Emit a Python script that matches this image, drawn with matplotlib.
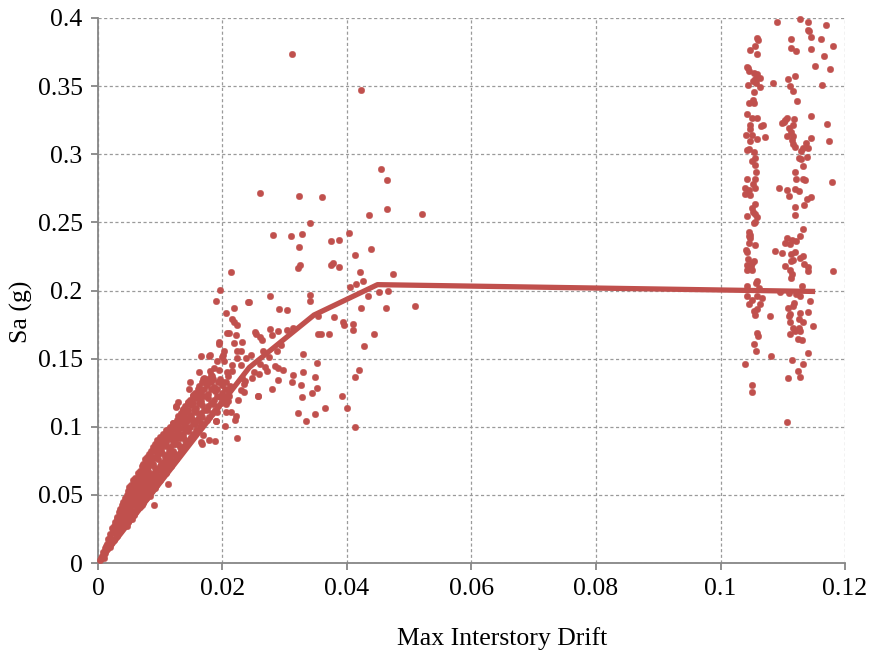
import matplotlib
matplotlib.use("Agg")
import matplotlib.pyplot as plt

# median IDA curve
median_drift = [0.0, 0.0243, 0.0347, 0.0449, 0.1152]
median_sa = [0.0, 0.1435, 0.182, 0.2043, 0.1993]

# dense band of early records near the origin
band_drift = [0.0003, 0.0006, 0.0009, 0.0008, 0.0012, 0.0011, 0.0015, 0.0014, 0.0019, 0.0017, 0.0022, 0.0026,
              0.0020, 0.0025, 0.0030, 0.0023, 0.0028, 0.0034, 0.0039, 0.0027, 0.0032, 0.0037, 0.0044, 0.0048,
              0.0031, 0.0036, 0.0042, 0.0047, 0.0053, 0.0058, 0.0036, 0.0041, 0.0046, 0.0051, 0.0057, 0.0063,
              0.0067, 0.0040, 0.0045, 0.0050, 0.0055, 0.0061, 0.0066, 0.0072, 0.0046, 0.0051, 0.0056, 0.0061,
              0.0067, 0.0073, 0.0079, 0.0083, 0.0050, 0.0056, 0.0062, 0.0068, 0.0074, 0.0080, 0.0087, 0.0092,
              0.0057, 0.0063, 0.0069, 0.0075, 0.0081, 0.0088, 0.0095, 0.0100, 0.0065, 0.0071, 0.0077, 0.0084,
              0.0090, 0.0097, 0.0104, 0.0110, 0.0071, 0.0078, 0.0085, 0.0092, 0.0099, 0.0106, 0.0113, 0.0118,
              0.0076, 0.0083, 0.0090, 0.0097, 0.0104, 0.0111, 0.0118, 0.0125, 0.0082, 0.0089, 0.0096, 0.0103,
              0.0110, 0.0117, 0.0124, 0.0132, 0.0088, 0.0095, 0.0102, 0.0109, 0.0116, 0.0123, 0.0131, 0.0139,
              0.0095, 0.0102, 0.0110, 0.0117, 0.0124, 0.0132, 0.0140, 0.0148, 0.0105, 0.0112, 0.0120, 0.0128,
              0.0136, 0.0144, 0.0152, 0.0116, 0.0124, 0.0132, 0.0140, 0.0148, 0.0156, 0.0164, 0.0127, 0.0135,
              0.0143, 0.0151, 0.0159, 0.0167, 0.0175, 0.0133, 0.0141, 0.0150, 0.0158, 0.0166, 0.0175, 0.0183,
              0.0140, 0.0149, 0.0158, 0.0167, 0.0176, 0.0185, 0.0193, 0.0148, 0.0157, 0.0166, 0.0176, 0.0186,
              0.0196, 0.0156, 0.0166, 0.0177, 0.0188, 0.0199, 0.0209, 0.0163, 0.0175, 0.0187, 0.0199, 0.0212,
              0.0170, 0.0183, 0.0196, 0.0209, 0.0180, 0.0194, 0.0208,
              0.0005, 0.0010, 0.0016, 0.0021, 0.0029, 0.0035, 0.0041, 0.0046, 0.0052, 0.0060, 0.0064, 0.0070,
              0.0076, 0.0079, 0.0086, 0.0094, 0.0093, 0.0101, 0.0107, 0.0114, 0.0121, 0.0128, 0.0136, 0.0145,
              0.0153, 0.0162, 0.0171, 0.0181, 0.0191, 0.0201, 0.0128, 0.0146, 0.0163,
              0.0013, 0.0016, 0.0023, 0.0024, 0.0031, 0.0036, 0.0026, 0.0033, 0.0040, 0.0046,
              0.0030, 0.0035, 0.0041, 0.0050, 0.0055, 0.0034, 0.0040, 0.0045, 0.0054, 0.0060,
              0.0038, 0.0044, 0.0049, 0.0058, 0.0064, 0.0070, 0.0043, 0.0049, 0.0054, 0.0064, 0.0070, 0.0077,
              0.0048, 0.0054, 0.0059, 0.0070, 0.0076, 0.0085, 0.0053, 0.0060, 0.0066, 0.0078, 0.0085, 0.0094,
              0.0060, 0.0067, 0.0074, 0.0085, 0.0092, 0.0102, 0.0068, 0.0074, 0.0081, 0.0094, 0.0101, 0.0110,
              0.0073, 0.0081, 0.0089, 0.0101, 0.0109, 0.0118, 0.0079, 0.0087, 0.0094, 0.0108, 0.0115, 0.0125,
              0.0085, 0.0093, 0.0100, 0.0114, 0.0121, 0.0133, 0.0092, 0.0099, 0.0106, 0.0120, 0.0128, 0.0142,
              0.0100, 0.0107, 0.0114, 0.0128, 0.0136, 0.0150, 0.0110, 0.0118, 0.0126, 0.0140, 0.0157,
              0.0121, 0.0129, 0.0137, 0.0153, 0.0166, 0.0130, 0.0138, 0.0147, 0.0163, 0.0178,
              0.0137, 0.0145, 0.0154, 0.0171, 0.0188, 0.0144, 0.0153, 0.0162, 0.0181, 0.0197,
              0.0152, 0.0161, 0.0171, 0.0191, 0.0203, 0.0160, 0.0171, 0.0182, 0.0204,
              0.0167, 0.0181, 0.0193, 0.0205]
band_sa = [0.002, 0.005, 0.004, 0.008, 0.007, 0.011, 0.010, 0.014, 0.012, 0.018, 0.016, 0.017,
           0.021, 0.022, 0.020, 0.026, 0.025, 0.024, 0.026, 0.030, 0.029, 0.031, 0.028, 0.030,
           0.034, 0.036, 0.034, 0.035, 0.033, 0.035, 0.040, 0.041, 0.039, 0.040, 0.038, 0.040,
           0.041, 0.045, 0.046, 0.044, 0.046, 0.044, 0.045, 0.044, 0.050, 0.052, 0.049, 0.051,
           0.050, 0.049, 0.050, 0.049, 0.056, 0.055, 0.057, 0.055, 0.056, 0.054, 0.055, 0.055,
           0.061, 0.060, 0.062, 0.060, 0.061, 0.059, 0.060, 0.061, 0.066, 0.065, 0.067, 0.065,
           0.066, 0.064, 0.065, 0.066, 0.071, 0.070, 0.072, 0.070, 0.071, 0.069, 0.070, 0.071,
           0.076, 0.075, 0.077, 0.076, 0.074, 0.076, 0.075, 0.076, 0.080, 0.082, 0.080, 0.081,
           0.079, 0.081, 0.080, 0.081, 0.085, 0.086, 0.084, 0.086, 0.085, 0.087, 0.085, 0.086,
           0.090, 0.091, 0.089, 0.091, 0.090, 0.092, 0.090, 0.091, 0.095, 0.096, 0.094, 0.096,
           0.095, 0.097, 0.095, 0.100, 0.101, 0.099, 0.101, 0.100, 0.102, 0.100, 0.105, 0.106,
           0.104, 0.106, 0.105, 0.107, 0.105, 0.110, 0.111, 0.109, 0.111, 0.110, 0.112, 0.110,
           0.115, 0.116, 0.114, 0.116, 0.115, 0.117, 0.115, 0.120, 0.121, 0.119, 0.121, 0.120,
           0.122, 0.125, 0.126, 0.124, 0.126, 0.125, 0.127, 0.130, 0.131, 0.129, 0.131, 0.130,
           0.136, 0.137, 0.135, 0.137, 0.141, 0.142, 0.140,
           0.0035, 0.0065, 0.012, 0.015, 0.023, 0.027, 0.032, 0.037, 0.043, 0.047, 0.053, 0.058,
           0.063, 0.068, 0.073, 0.078, 0.083, 0.088, 0.093, 0.098, 0.103, 0.108, 0.113, 0.118,
           0.123, 0.128, 0.133, 0.138, 0.128, 0.133, 0.118, 0.128, 0.140,
           0.0125, 0.0175, 0.0175, 0.0235, 0.0235, 0.0235, 0.0275, 0.0275, 0.0275, 0.0275,
           0.0325, 0.0325, 0.0325, 0.0325, 0.0325, 0.0375, 0.0375, 0.0375, 0.0375, 0.0375,
           0.0425, 0.0425, 0.0425, 0.0425, 0.0425, 0.0425, 0.0475, 0.0475, 0.0475, 0.0475, 0.0475, 0.0475,
           0.0525, 0.0525, 0.0525, 0.0525, 0.0525, 0.0525, 0.0575, 0.0575, 0.0575, 0.0575, 0.0575, 0.0575,
           0.0625, 0.0625, 0.0625, 0.0625, 0.0625, 0.0625, 0.0675, 0.0675, 0.0675, 0.0675, 0.0675, 0.0675,
           0.0725, 0.0725, 0.0725, 0.0725, 0.0725, 0.0725, 0.0775, 0.0775, 0.0775, 0.0775, 0.0775, 0.0775,
           0.0825, 0.0825, 0.0825, 0.0825, 0.0825, 0.0825, 0.0875, 0.0875, 0.0875, 0.0875, 0.0875, 0.0875,
           0.0925, 0.0925, 0.0925, 0.0925, 0.0925, 0.0925, 0.0975, 0.0975, 0.0975, 0.0975, 0.0975,
           0.1025, 0.1025, 0.1025, 0.1025, 0.1025, 0.1075, 0.1075, 0.1075, 0.1075, 0.1075,
           0.1125, 0.1125, 0.1125, 0.1125, 0.1125, 0.1175, 0.1175, 0.1175, 0.1175, 0.1175,
           0.1225, 0.1225, 0.1225, 0.1225, 0.1225, 0.1275, 0.1275, 0.1275, 0.1275,
           0.1325, 0.1325, 0.1325, 0.1325]

# scattered records between the band and collapse
spread_drift = [0.0312, 0.0423, 0.0455, 0.0464, 0.0261, 0.0323, 0.0360, 0.0464, 0.0436, 0.0520, 0.0340,
                0.0281, 0.0310, 0.0327, 0.0323, 0.0374, 0.0387, 0.0403, 0.0413, 0.0439, 0.0375, 0.0378,
                0.0387, 0.0322, 0.0325, 0.0421, 0.0415, 0.0426, 0.0474, 0.0405, 0.0452, 0.0466, 0.0433,
                0.0422, 0.0463, 0.0509, 0.0277, 0.0340, 0.0340, 0.0291, 0.0304, 0.0243, 0.0354, 0.0379,
                0.0393, 0.0395, 0.0410, 0.0410, 0.0443, 0.0354, 0.0358, 0.0371, 0.0253, 0.0254, 0.0261,
                0.0263, 0.0276, 0.0279, 0.0289, 0.0303, 0.0313, 0.0427, 0.0294, 0.0275, 0.0287, 0.0265,
                0.0330, 0.0352, 0.0246, 0.0260, 0.0268, 0.0284, 0.0289, 0.0298, 0.0271, 0.0250, 0.0248,
                0.0259, 0.0314, 0.0329, 0.0348, 0.0312, 0.0326, 0.0289, 0.0352, 0.0344, 0.0328, 0.0280,
                0.0257, 0.0392, 0.0420, 0.0413, 0.0364, 0.0400, 0.0322, 0.0348, 0.0334, 0.0413,
                0.0214, 0.0196, 0.0190, 0.0241, 0.0206, 0.0218, 0.0216, 0.0218, 0.0223, 0.0210, 0.0221,
                0.0194, 0.0194, 0.0218, 0.0231, 0.0230, 0.0202, 0.0201, 0.0180, 0.0178, 0.0192, 0.0223,
                0.0238, 0.0216, 0.0165, 0.0187, 0.0169, 0.0176, 0.0184, 0.0232, 0.0225, 0.0222, 0.0204,
                0.0223, 0.0169, 0.0178, 0.0188, 0.0167, 0.0189, 0.0206, 0.0214, 0.0210, 0.0229, 0.0235,
                0.0148, 0.0215, 0.0236, 0.0257, 0.0125, 0.0137, 0.0165, 0.0157, 0.0189, 0.0192, 0.0209,
                0.0220, 0.0202, 0.0223, 0.0229, 0.0166, 0.0206, 0.0235, 0.0208, 0.0126, 0.0171, 0.0200,
                0.0090, 0.0113, 0.0109]
spread_sa = [0.3733, 0.3474, 0.2894, 0.2811, 0.2713, 0.2696, 0.2689, 0.2601, 0.2551, 0.2564, 0.2496,
             0.2405, 0.2398, 0.2415, 0.2317, 0.2366, 0.2373, 0.2424, 0.2260, 0.2304, 0.2187, 0.2204,
             0.2172, 0.2163, 0.2187, 0.2136, 0.2050, 0.2072, 0.2121, 0.2023, 0.1989, 0.1999, 0.1957,
             0.1869, 0.1874, 0.1888, 0.1957, 0.1967, 0.1920, 0.1866, 0.1859, 0.1915, 0.1810, 0.1803,
             0.1768, 0.1747, 0.1756, 0.1707, 0.1678, 0.1678, 0.1683, 0.1683, 0.1698, 0.1680, 0.1656,
             0.1636, 0.1715, 0.1673, 0.1700, 0.1712, 0.1722, 0.1595, 0.1600, 0.1509, 0.1553, 0.1558,
             0.1531, 0.1468, 0.1529, 0.1460, 0.1441, 0.1443, 0.1433, 0.1414, 0.1409, 0.1399, 0.1360,
             0.1384, 0.1379, 0.1404, 0.1362, 0.1326, 0.1308, 0.1343, 0.1284, 0.1245, 0.1220, 0.1274,
             0.1223, 0.1228, 0.1419, 0.1362, 0.1140, 0.1140, 0.1103, 0.1095, 0.1042, 0.1000,
             0.2136, 0.2006, 0.1925, 0.1913, 0.1835, 0.1869, 0.1788, 0.1769, 0.1749, 0.1685, 0.1673,
             0.1624, 0.1607, 0.1617, 0.1622, 0.1556, 0.1558, 0.1529, 0.1529, 0.1516, 0.1485, 0.1504,
             0.1507, 0.1453, 0.1516, 0.1431, 0.1347, 0.1347, 0.1347, 0.1358, 0.1200, 0.1081, 0.1002,
             0.0917, 0.0939, 0.0902, 0.0895, 0.0877, 0.1044, 0.1105, 0.1105, 0.1228, 0.1272, 0.1252,
             0.1325, 0.1411, 0.1336, 0.1228, 0.1152, 0.1110, 0.1233, 0.1215, 0.1044, 0.1112, 0.1191,
             0.1049, 0.1485, 0.1553, 0.1455, 0.0885, 0.1166, 0.1313, 0.1685, 0.1147, 0.1350, 0.1510,
             0.0425, 0.0580, 0.0665]

# collapsed records (drift capped near 0.1)
collapse_drift = [0.1059, 0.1060, 0.1048, 0.1056, 0.1058, 0.1042, 0.1044, 0.1045, 0.1054, 0.1059, 0.1058,
                  0.1064, 0.1055, 0.1052, 0.1044, 0.1057, 0.1063, 0.1053, 0.1052, 0.1046, 0.1054, 0.1043,
                  0.1051, 0.1058, 0.1048, 0.1068, 0.1065, 0.1048, 0.1041, 0.1051, 0.1058, 0.1071, 0.1048,
                  0.1046, 0.1043, 0.1053, 0.1055, 0.1051, 0.1055, 0.1057, 0.1042, 0.1055, 0.1052, 0.1040,
                  0.1055, 0.1046, 0.1040, 0.1048, 0.1055, 0.1050, 0.1052, 0.1055, 0.1043, 0.1059, 0.1054,
                  0.1091, 0.1127, 0.1140, 0.1140, 0.1142, 0.1146, 0.1114, 0.1114, 0.1122, 0.1146, 0.1108,
                  0.1119, 0.1112, 0.1116, 0.1123, 0.1084, 0.1107, 0.1104, 0.1102, 0.1099, 0.1118, 0.1110,
                  0.1116, 0.1114, 0.1106, 0.1116, 0.1115, 0.1117, 0.1119, 0.1138, 0.1133, 0.1140, 0.1130,
                  0.1126, 0.1130, 0.1139, 0.1132, 0.1120, 0.1122, 0.1133, 0.1136, 0.1094, 0.1107, 0.1120,
                  0.1126, 0.1110, 0.1145, 0.1139, 0.1134, 0.1119, 0.1120,
                  0.1169, 0.1161, 0.1181, 0.1167, 0.1151, 0.1176, 0.1163, 0.1146, 0.1171, 0.1145, 0.1174,
                  0.1179,
                  0.1055, 0.1046, 0.1048, 0.1045, 0.1048, 0.1046, 0.1056, 0.1041, 0.1043, 0.1044, 0.1053,
                  0.1050, 0.1042, 0.1049, 0.1042, 0.1050, 0.1058, 0.1057, 0.1043, 0.1062, 0.1043, 0.1058,
                  0.1066, 0.1051, 0.1045, 0.1064, 0.1058, 0.1054, 0.1056, 0.1059, 0.1061, 0.1054, 0.1057,
                  0.1040, 0.1051, 0.1051,
                  0.1133, 0.1128, 0.1107, 0.1115, 0.1121, 0.1104, 0.1111, 0.1087, 0.1099, 0.1119, 0.1114,
                  0.1133, 0.1127, 0.1117, 0.1113, 0.1103, 0.1134, 0.1140, 0.1141, 0.1111, 0.1115, 0.1113,
                  0.1131, 0.1096, 0.1110, 0.1121, 0.1128, 0.1118, 0.1108, 0.1116, 0.1143, 0.1110, 0.1112,
                  0.1127, 0.1112, 0.1126, 0.1132, 0.1116, 0.1126, 0.1141, 0.1120, 0.1128, 0.1112, 0.1149,
                  0.1125, 0.1131, 0.1079, 0.1115, 0.1132, 0.1124, 0.1128, 0.1108, 0.1081, 0.1141, 0.1106,
                  0.1180]
collapse_sa = [0.3851, 0.3841, 0.3768, 0.3795, 0.3734, 0.3641, 0.3636, 0.3614, 0.3594, 0.3587, 0.3560,
               0.3560, 0.3550, 0.3540, 0.3511, 0.3521, 0.3491, 0.3460, 0.3398, 0.3379, 0.3374, 0.3293,
               0.3266, 0.3264, 0.3212, 0.3217, 0.3207, 0.3183, 0.3144, 0.3141, 0.3115, 0.3127, 0.3097,
               0.3039, 0.3031, 0.3014, 0.2970, 0.2948, 0.2924, 0.2867, 0.2821, 0.2816, 0.2782, 0.2755,
               0.2755, 0.2738, 0.2708, 0.2701, 0.2637, 0.2608, 0.2574, 0.2564, 0.2544, 0.2542, 0.2495,
               0.3974, 0.3991, 0.3974, 0.3915, 0.3908, 0.3863, 0.3844, 0.3780, 0.3756, 0.3775, 0.3553,
               0.3577, 0.3499, 0.3464, 0.3394, 0.3523, 0.3264, 0.3252, 0.3239, 0.3229, 0.3256, 0.3193,
               0.3215, 0.3163, 0.3136, 0.3132, 0.3105, 0.3078, 0.3051, 0.3085, 0.3046, 0.3048, 0.3026,
               0.2975, 0.2963, 0.2978, 0.2914, 0.2870, 0.2816, 0.2818, 0.2813, 0.2752, 0.2740, 0.2745,
               0.2728, 0.2694, 0.2684, 0.2669, 0.2630, 0.2615, 0.2554,
               0.3949, 0.3844, 0.3792, 0.3721, 0.3650, 0.3626, 0.3511, 0.3283, 0.3222, 0.3117, 0.3100,
               0.2794,
               0.2500, 0.2427, 0.2410, 0.2397, 0.2385, 0.2346, 0.2331, 0.2295, 0.2282, 0.2231, 0.2214,
               0.2202, 0.2187, 0.2177, 0.2148, 0.2150, 0.2072, 0.2052, 0.2035, 0.2018, 0.1962, 0.1959,
               0.1945, 0.1928, 0.1898, 0.1901, 0.1864, 0.1849, 0.1820, 0.1685, 0.1668, 0.1607, 0.1553,
               0.1463, 0.1303, 0.1255,
               0.2449, 0.2398, 0.2385, 0.2371, 0.2361, 0.2351, 0.2344, 0.2287, 0.2278, 0.2280, 0.2268,
               0.2253, 0.2238, 0.2226, 0.2219, 0.2180, 0.2194, 0.2170, 0.2140, 0.2153, 0.2118, 0.2092,
               0.2033, 0.1986, 0.1981, 0.1974, 0.1962, 0.1908, 0.1871, 0.1886, 0.1923, 0.1815, 0.1825,
               0.1832, 0.1766, 0.1788, 0.1771, 0.1727, 0.1727, 0.1839, 0.1700, 0.1702, 0.1678, 0.1742,
               0.1646, 0.1639, 0.1810, 0.1487, 0.1460, 0.1406, 0.1365, 0.1360, 0.1519, 0.1538, 0.1037,
               0.2143]

xticks = [0, 0.02, 0.04, 0.06, 0.08, 0.1, 0.12]
xtick_labels = ['0', '0.02', '0.04', '0.06', '0.08', '0.1', '0.12']
yticks = [0, 0.05, 0.1, 0.15, 0.2, 0.25, 0.3, 0.35, 0.4]
ytick_labels = ['0', '0.05', '0.1', '0.15', '0.2', '0.25', '0.3', '0.35', '0.4']

red = '#C0504D'
plt.rcParams['font.family'] = ['Liberation Serif', 'DejaVu Serif']

fig = plt.figure(figsize=(8.7, 6.54), dpi=100)
ax = fig.add_axes([0.1126, 0.1391, 0.8587, 0.8334])

for d, s in [(band_drift, band_sa), (spread_drift, spread_sa), (collapse_drift, collapse_sa)]:
    ax.scatter(d, s, s=22, color=red, edgecolors=red, linewidths=0.3, clip_on=False, zorder=3)
ax.plot(median_drift, median_sa, color=red, lw=3.8, solid_capstyle='butt', zorder=4)

ax.set_xlim(0, 0.12)
ax.set_ylim(0, 0.4)
ax.set_xticks(xticks)
ax.set_xticklabels(xtick_labels)
ax.set_yticks(yticks)
ax.set_yticklabels(ytick_labels)
ax.grid(True, color='#9a9a9a', linestyle=(0, (2.5, 2)), linewidth=0.9)
ax.set_axisbelow(True)

for side in ['top', 'right']:
    ax.spines[side].set_visible(False)
for side in ['left', 'bottom']:
    ax.spines[side].set_color('#868686')
    ax.spines[side].set_linewidth(1.3)
ax.tick_params(axis='both', which='major', labelsize=18.5, colors='#868686',
               labelcolor='black', length=5, width=1.3, pad=6)

ax.set_xlabel('Max Interstory Drift', fontsize=18.5)
ax.xaxis.set_label_coords(0.541, -0.118)
ax.set_ylabel('Sa (g)', fontsize=18.5)
ax.yaxis.set_label_coords(-0.087, 0.46)

fig.savefig('out.png', dpi=100)
